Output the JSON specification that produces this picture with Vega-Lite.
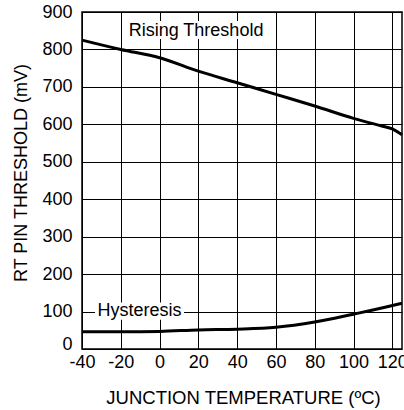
{
  "$schema": "https://vega.github.io/schema/vega-lite/v6.json",
  "width": 320,
  "height": 337,
  "autosize": {"type": "none"},
  "padding": {"left": 82, "top": 12, "right": 2, "bottom": 61},
  "background": "white",
  "config": {
    "font": "Liberation Sans",
    "view": {"stroke": "black", "strokeWidth": 1.5},
    "axis": {
      "domain": false,
      "ticks": false,
      "grid": true,
      "gridColor": "black",
      "gridOpacity": 1,
      "gridWidth": 1,
      "labelFont": "Liberation Sans",
      "labelFontSize": 18,
      "labelColor": "black",
      "labelOverlap": false,
      "titleFont": "Liberation Sans",
      "titleFontSize": 18,
      "titleFontWeight": "normal",
      "titleColor": "black"
    }
  },
  "datasets": {
    "curves": [
      {"t": -40, "v": 825, "series": "Rising Threshold"},
      {"t": -20, "v": 800, "series": "Rising Threshold"},
      {"t": 0, "v": 778, "series": "Rising Threshold"},
      {"t": 20, "v": 742, "series": "Rising Threshold"},
      {"t": 40, "v": 711, "series": "Rising Threshold"},
      {"t": 60, "v": 680, "series": "Rising Threshold"},
      {"t": 80, "v": 649, "series": "Rising Threshold"},
      {"t": 100, "v": 616, "series": "Rising Threshold"},
      {"t": 115, "v": 595, "series": "Rising Threshold"},
      {"t": 120, "v": 588, "series": "Rising Threshold"},
      {"t": 125, "v": 572, "series": "Rising Threshold"},
      {"t": -40, "v": 46, "series": "Hysteresis"},
      {"t": -20, "v": 46, "series": "Hysteresis"},
      {"t": 0, "v": 47, "series": "Hysteresis"},
      {"t": 20, "v": 51, "series": "Hysteresis"},
      {"t": 40, "v": 53, "series": "Hysteresis"},
      {"t": 60, "v": 58, "series": "Hysteresis"},
      {"t": 80, "v": 72, "series": "Hysteresis"},
      {"t": 100, "v": 93, "series": "Hysteresis"},
      {"t": 110, "v": 104, "series": "Hysteresis"},
      {"t": 125, "v": 122, "series": "Hysteresis"}
    ],
    "labels": [
      {"t": 18.8, "v": 850, "t1": -18.4, "t2": 55.9, "v1": 828, "v2": 876, "label": "Rising Threshold"},
      {"t": -10.4, "v": 101, "t1": -33.3, "t2": 12.6, "v1": 78, "v2": 124, "label": "Hysteresis"}
    ]
  },
  "encoding": {
    "x": {
      "field": "t", "type": "quantitative",
      "scale": {"domain": [-40, 125], "nice": false, "zero": false},
      "axis": {
        "values": [-40, -20, 0, 20, 40, 60, 80, 100, 120],
        "labelExpr": "toString(datum.value)",
        "labelPadding": 4,
        "title": "JUNCTION TEMPERATURE (ºC)",
        "titleFontSize": 18.5,
        "titleX": 161, "titleY": 48, "titleBaseline": "middle",
        "labelFlush": false
      }
    },
    "y": {
      "field": "v", "type": "quantitative",
      "scale": {"domain": [0, 900], "nice": false},
      "axis": {
        "values": [0, 100, 200, 300, 400, 500, 600, 700, 800, 900],
        "labelPadding": 10,
        "labelBaseline": {"condition": {"test": "datum.value == 0", "value": "alphabetic"}, "value": "middle"},
        "title": "RT PIN THRESHOLD (mV)",
        "titleX": -61, "titleY": 160.5, "titleBaseline": "middle", "titleAngle": -90, "titleAlign": "center",
        "labelFlush": false
      }
    }
  },
  "layer": [
    {
      "data": {"name": "curves"},
      "mark": {"type": "line", "color": "black", "strokeWidth": 3, "interpolate": "monotone"},
      "encoding": {
        "detail": {"field": "series"}
      }
    },
    {
      "data": {"name": "labels"},
      "mark": {"type": "rect", "color": "white", "opacity": 1},
      "encoding": {
        "x": {"field": "t1", "type": "quantitative"},
        "x2": {"field": "t2"},
        "y": {"field": "v1", "type": "quantitative"},
        "y2": {"field": "v2"}
      }
    },
    {
      "data": {"name": "labels"},
      "mark": {"type": "text", "color": "black", "fontSize": 18, "font": "Liberation Sans", "baseline": "middle", "align": "center"},
      "encoding": {
        "text": {"field": "label"}
      }
    }
  ]
}
